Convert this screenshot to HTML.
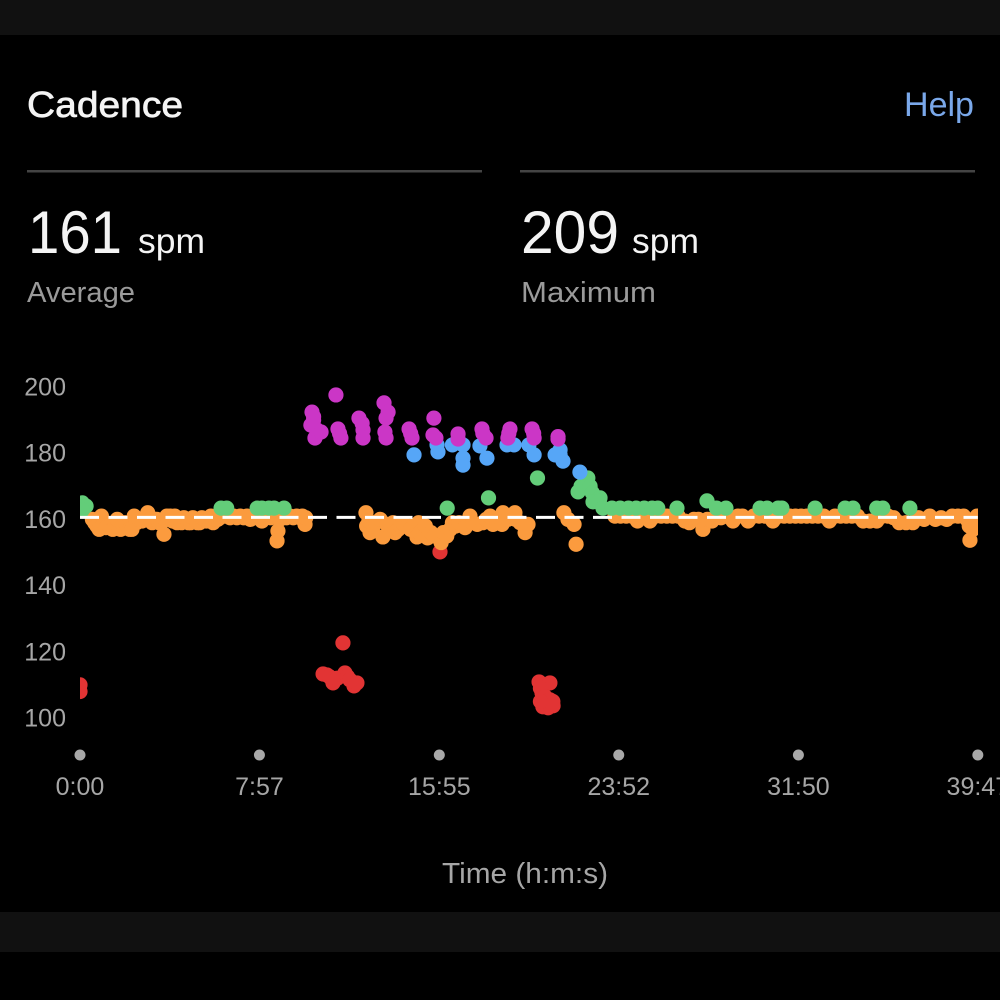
<!DOCTYPE html>
<html lang="en">
<head>
<meta charset="utf-8">
<title>Cadence</title>
<style>
html,body{margin:0;padding:0;background:#000;width:1000px;height:1000px;overflow:hidden}
svg{display:block}
text{font-family:"Liberation Sans",sans-serif}
</style>
</head>
<body>
<svg id="page" xmlns="http://www.w3.org/2000/svg" width="1000" height="1000" viewBox="0 0 1000 1000">
  <defs><clipPath id="plot-clip"><rect x="80" y="340" width="898" height="420"/></clipPath></defs>
  <rect x="0" y="0" width="1000" height="1000" fill="#000"/>
  <rect x="0" y="0" width="1000" height="35" fill="#111"/>
  <rect x="0" y="912" width="1000" height="40" fill="#111"/>

  <text x="27" y="117" font-size="36" fill="#f4f4f4" stroke="#f4f4f4" stroke-width="0.7" textLength="156" lengthAdjust="spacingAndGlyphs">Cadence</text>
  <text x="904" y="116" font-size="34" fill="#7aa8ea" textLength="70" lengthAdjust="spacingAndGlyphs">Help</text>

  <rect x="27" y="170" width="455" height="2.5" fill="#444"/>
  <rect x="520" y="170" width="455" height="2.5" fill="#444"/>

  <text x="28" y="253" font-size="60" fill="#f4f4f4" textLength="94" lengthAdjust="spacingAndGlyphs">161</text>
  <text x="138" y="253" font-size="35" fill="#f4f4f4" textLength="67" lengthAdjust="spacingAndGlyphs">spm</text>
  <text x="27" y="302" font-size="29" fill="#9a9a9a" textLength="108" lengthAdjust="spacingAndGlyphs">Average</text>

  <text x="521" y="253" font-size="60" fill="#f4f4f4" textLength="98" lengthAdjust="spacingAndGlyphs">209</text>
  <text x="632" y="253" font-size="35" fill="#f4f4f4" textLength="67" lengthAdjust="spacingAndGlyphs">spm</text>
  <text x="521" y="302" font-size="29" fill="#9a9a9a" textLength="135" lengthAdjust="spacingAndGlyphs">Maximum</text>

  <g id="y-axis"></g>
  <g id="x-axis"></g>
  <g id="marks" clip-path="url(#plot-clip)"></g>

  <text x="525" y="883" font-size="29" fill="#a6a6a6" text-anchor="middle" textLength="166" lengthAdjust="spacingAndGlyphs">Time (h:m:s)</text>
</svg>
<script>
var yTicks = [200, 180, 160, 140, 120, 100];
var xTickMinutes = [0, 7.95, 15.92, 23.87, 31.83, 39.78];
var xTickLabels = ['0:00', '7:57', '15:55', '23:52', '31:50', '39:47'];
var averageCadence = 160.6;

// [elapsed minutes, steps per minute]
var redPoints = [[0,110],[0,108],[11.65,122.7],[10.77,113.3],[10.94,113],[11.05,112.5],[11.17,111.5],[11.21,110.6],[11.4,112],[11.74,113.6],[11.85,112.5],[11.96,111.5],[12.14,109.7],[12.27,110.6],[20.34,110.9],[20.82,110.6],[20.47,107.6],[20.4,109],[20.6,106.5],[20.82,105.5],[20.95,105],[20.51,103.4],[20.74,103.1],[20.96,103.7],[20.4,105],[15.95,150.2]];

var orangePoints = [
[0.55,160],[0.65,159],[0.75,158],[0.85,157],[0.95,161],[1.05,159],[1.15,157.5],[1.3,158],[1.45,157],[1.55,159],[1.65,160],[1.8,157],[1.9,158.5],[2.0,159],[2.1,158],[2.2,157],[2.3,157],[2.4,161],[2.5,159],[2.6,160],[2.75,159.5],[2.9,160.5],[3.0,162],[3.1,160],[3.2,159],[3.3,160],[3.4,160],[3.5,159],[3.72,155.5],[3.6,159],[3.75,160],[3.85,161],[4.0,161],[4.1,159.5],[4.2,161],[4.3,159],[4.4,160],[4.5,159],[4.6,160.5],[4.7,160],[4.8,159],[4.9,159],[5.0,160.5],[5.1,160],[5.2,159],[5.3,159],[5.4,160.5],[5.5,160],[5.6,159.5],[5.7,160],[5.8,161],[5.9,159],[6.0,160],[6.1,160],[6.2,160.5],[6.3,161],[6.5,161],[6.65,160.5],[6.8,161],[6.95,160.5],[7.1,161],[7.25,160.5],[7.4,161],[7.55,160],[7.7,161],[7.85,160.5],[8.06,159.5],[8.2,160.5],[8.3,161],[8.45,160.5],[8.6,161],[8.77,156.5],[8.73,153.5],[8.85,160],[9.0,161],[9.15,160.5],[9.3,161],[9.45,160.5],[9.6,161],[9.75,160.5],[9.85,161],[9.97,158.5],[10.0,160.5],
[12.67,162],[12.7,158],[12.85,156],[12.8,159.5],[13.0,158],[13.1,159],[13.42,154.7],[13.3,160],[13.6,158.5],[13.87,159],[13.96,156],[14.1,157],[14.2,158],[14.35,158.5],[14.5,158],[14.75,158],[14.65,157],[15,159],[14.93,154.7],[15.05,156],[15.2,157],[15.4,154.4],[15.3,158],[15.55,156],[15.7,155],[16,153],[16.1,156],[16.25,155],[16.4,157],[16.5,159],[16.65,158],[16.8,159],[17.06,157.5],[17.28,161],[17.4,159],[17.6,158.5],[17.85,159],[18,160],[18.17,161],[18.3,158.5],[18.5,159],[18.74,162],[18.7,158.5],[18.95,160],[19.27,162],[19.5,159],[19.3,160],[19.72,156],[19.85,158.5],[21.44,162],[21.62,160],[21.89,158.5],[21.98,152.5],
[23.7,161],[23.95,161],[24.2,161],[24.45,161],[24.7,159.5],[24.95,161],[25.25,159.5],[25.5,161],[25.75,161],[26,161],[26.25,161],[26.5,161],[26.8,159.5],[27,159],[27.2,160],[27.4,160],[27.6,157],[27.8,160],[28,159.5],[28.2,161],[28.4,160.5],[28.65,161],[28.93,159.5],[29.15,161],[29.35,161],[29.6,159.5],[29.85,161],[30.1,161],[30.35,161],[30.7,159.5],[30.95,161],[31.2,161],[31.45,161],[31.7,161],[31.95,161],[32.2,161],[32.45,161],[32.7,161],[32.95,161],[33.2,159.5],[33.45,161],[33.7,161],[33.95,161],[34.2,161],[34.45,161],[34.7,159.5],[35,159.5],[35.3,159.5],[35.55,161],[35.8,161],[36.05,160.5],[36.3,159],[36.6,159],[36.9,159],[37.15,160.5],[37.4,160],[37.65,161],[37.9,160],[38.15,160.5],[38.4,160],[38.65,161],[38.9,161],[39.15,161],[39.3,160],[39.43,153.7],[39.4,158],[39.56,157],[39.66,160],[39.75,161]
];

var greenPoints = [[0.1,165],[0.27,164],[0.1,162.8],[6.25,163.4],[6.5,163.4],[7.85,163.4],[8.06,163.4],[8.37,163.4],[8.6,163.4],[9.04,163.4],[16.27,163.4],[18.1,166.5],[20.27,172.5],[22.2,170],[22.37,172.5],[22.5,172.5],[22.07,168.3],[22.37,169.8],[22.6,170],[22.7,168],[23.04,166.5],[22.73,165.3],[23,165.5],[23.17,163.4],[23.57,163.4],[23.93,163.4],[24.3,163.4],[24.64,163.4],[25,163.4],[25.35,163.4],[25.6,163.4],[26.45,163.4],[27.78,165.6],[28.2,163.4],[28.62,163.4],[30.13,163.4],[30.44,163.4],[30.93,163.4],[31.1,163.4],[32.57,163.4],[33.9,163.4],[34.25,163.4],[35.3,163.4],[35.57,163.4],[36.77,163.4]];

var bluePoints = [[14.8,179.5],[15.86,180.4],[15.82,182.5],[16.5,182.5],[16.97,182.5],[16.97,178.5],[16.97,176.4],[17.72,182.2],[18.03,178.5],[18.92,182.5],[19.23,182.5],[19.89,182.5],[20.12,179.5],[21.05,179.5],[21.4,177.6],[21.27,181],[21.27,179.5],[22.15,174.3]];

var purplePoints = [[11.34,197.6],[10.28,192.4],[10.35,191],[10.23,188.5],[10.41,184.6],[10.5,187],[10.68,186.4],[10.35,190],[11.43,187.3],[11.5,186],[11.56,184.6],[12.36,190.6],[12.54,187],[12.5,189],[12.54,184.6],[13.47,195.2],[13.65,192.4],[13.56,190.6],[13.51,186.4],[13.56,184.6],[14.58,187.3],[14.65,186],[14.71,184.6],[15.68,190.6],[15.64,185.5],[15.77,184.6],[16.75,185.8],[16.75,184.3],[17.81,187.3],[17.85,186],[17.99,184.6],[19.05,187.3],[19,186],[18.96,184.6],[20.03,187.3],[20.1,186],[20.12,184.6],[21.18,184.3],[21.18,185]];

var seriesColors = { red: '#e23434', orange: '#fb9b3e', green: '#63cd79', blue: '#56a6f7', purple: '#cb36c6' };

function xScale(minutes) { return 80 + minutes * 22.57; }
function yScale(spm) { return 387 + (200 - spm) * 3.31; }

var NS = 'http://www.w3.org/2000/svg';

var yAxis = document.getElementById('y-axis');
yTicks.forEach(function (tick) {
  var label = document.createElementNS(NS, 'text');
  label.setAttribute('x', 66);
  label.setAttribute('y', yScale(tick) + 8.5);
  label.setAttribute('font-size', '25');
  label.setAttribute('fill', '#a6a6a6');
  label.setAttribute('text-anchor', 'end');
  
  
  label.textContent = tick;
  yAxis.appendChild(label);
});

var xAxis = document.getElementById('x-axis');
xTickMinutes.forEach(function (minute, i) {
  var dot = document.createElementNS(NS, 'circle');
  dot.setAttribute('cx', xScale(minute));
  dot.setAttribute('cy', 755);
  dot.setAttribute('r', 5.5);
  dot.setAttribute('fill', '#a8a8a8');
  
  
  xAxis.appendChild(dot);
  var label = document.createElementNS(NS, 'text');
  label.setAttribute('x', xScale(minute));
  label.setAttribute('y', 795);
  label.setAttribute('font-size', '25');
  label.setAttribute('fill', '#a6a6a6');
  label.setAttribute('text-anchor', 'middle');
  
  
  label.textContent = xTickLabels[i];
  xAxis.appendChild(label);
});

var marks = document.getElementById('marks');
function drawSeries(points, color, name) {
  var group = document.createElementNS(NS, 'g');
  group.setAttribute('fill', color);
  
  
  points.forEach(function (p) {
    var dot = document.createElementNS(NS, 'circle');
    dot.setAttribute('cx', xScale(p[0]));
    dot.setAttribute('cy', yScale(p[1]));
    dot.setAttribute('r', 7.6);
    
    
    group.appendChild(dot);
  });
  marks.appendChild(group);
}
drawSeries(redPoints, seriesColors.red, 'red-zone-series');
drawSeries(orangePoints, seriesColors.orange, 'orange-zone-series');
drawSeries(greenPoints, seriesColors.green, 'green-zone-series');
drawSeries(bluePoints, seriesColors.blue, 'blue-zone-series');
drawSeries(purplePoints, seriesColors.purple, 'purple-zone-series');

var avgLine = document.createElementNS(NS, 'line');
avgLine.setAttribute('x1', xScale(xTickMinutes[0]));
avgLine.setAttribute('x2', xScale(xTickMinutes[xTickMinutes.length - 1]));
avgLine.setAttribute('y1', yScale(averageCadence));
avgLine.setAttribute('y2', yScale(averageCadence));
avgLine.setAttribute('stroke', '#fff');
avgLine.setAttribute('stroke-width', '3');
avgLine.setAttribute('stroke-dasharray', '19 9.5');


marks.appendChild(avgLine);
</script>
</body>
</html>
